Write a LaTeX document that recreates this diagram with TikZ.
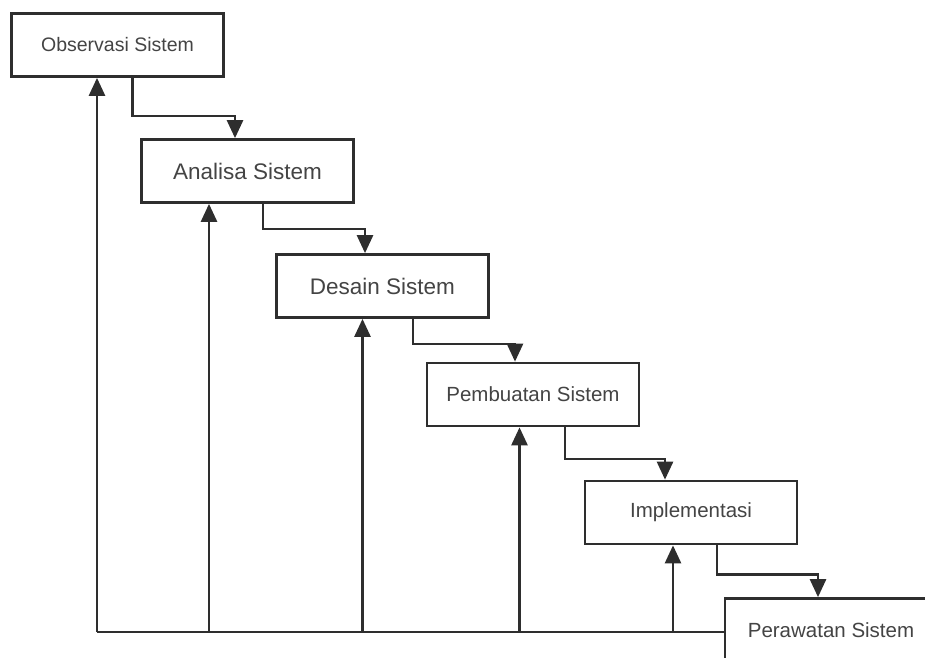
\documentclass[tikz,border=0pt]{standalone}
\usepackage{fontspec}
\setmainfont{Liberation Sans}
\usepackage{xcolor}
\usetikzlibrary{arrows.meta,positioning}
\definecolor{lineGray}{HTML}{2E2E2E}
\definecolor{textGray}{HTML}{444444}

\begin{document}
\begin{tikzpicture}[
  x=1pt, y=-1pt,
  stage/.style={
    draw=lineGray, fill=white, line width=2.7pt,
    minimum width=212pt, minimum height=63pt,
    inner sep=0pt, text=textGray, font=\fontsize{20.5}{24}\selectfont,
  },
  arr/.style={-{Triangle[length=18pt,width=16pt]}, line width=2.6pt, lineGray},
  feed/.style={line width=2.6pt, lineGray},
]
\useasboundingbox (0,0) rectangle (925,657);
\clip (0,0) rectangle (925,657);

% Stages (waterfall)
\node[stage, font=\fontsize{19.5}{23}\selectfont] (obs) at (117.5,45) {Observasi Sistem};
\node[stage, font=\fontsize{22.5}{26}\selectfont] (ana) at (247.5,171) {Analisa Sistem};
\node[stage, font=\fontsize{22.5}{26}\selectfont] (des) at (382.5,286) {Desain Sistem};
\node[stage] (pemb) at (533,394.5) {Pembuatan Sistem};
\node[stage] (impl) at (691,512.5) {Implementasi};
\node[stage] (raw) at (831,630) {Perawatan Sistem};

% Forward flow
\draw[arr] ([xshift=15]obs.south) -- ++(0,38) -| ([xshift=-12.5]ana.north);
\draw[arr] ([xshift=15.5]ana.south) -- ++(0,25) -| ([xshift=-17.5]des.north);
\draw[arr] ([xshift=30.5]des.south) -- ++(0,25) -| ([xshift=-18]pemb.north);
\draw[arr] ([xshift=32]pemb.south) -- ++(0,31.5) -| ([xshift=-26]impl.north);
\draw[arr] ([xshift=26]impl.south) -- ++(0,29) -| ([xshift=-13]raw.north);

% Feedback line
\coordinate (f1) at (97,632);
\coordinate (f2) at (209,632);
\coordinate (f3) at (362.5,632);
\coordinate (f4) at (519.5,632);
\coordinate (f5) at (673,632);
\draw[feed] (f1) -- (f1 -| raw.west);
\draw[arr] (f1) -- (f1 |- obs.south);
\draw[arr] (f2) -- (f2 |- ana.south);
\draw[arr] (f3) -- (f3 |- des.south);
\draw[arr] (f4) -- (f4 |- pemb.south);
\draw[arr] (f5) -- (f5 |- impl.south);

\end{tikzpicture}
\end{document}
